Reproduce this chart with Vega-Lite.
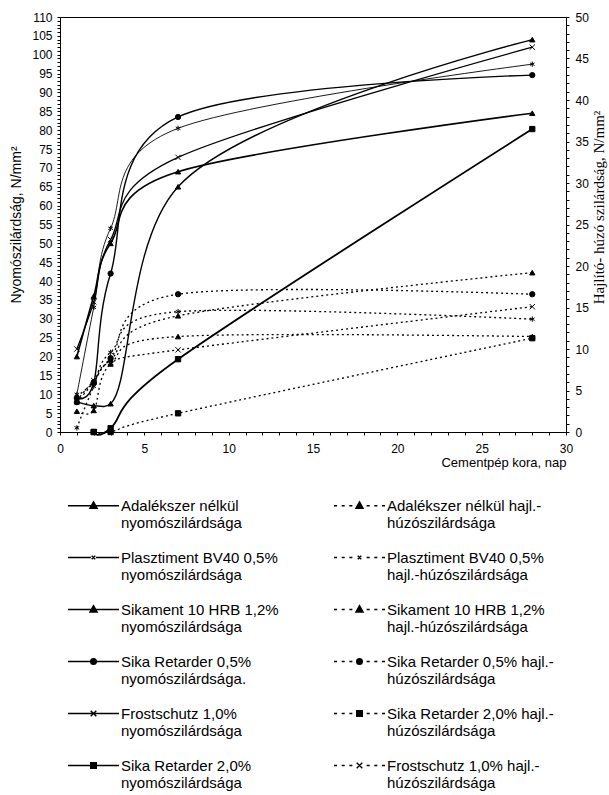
{
  "$schema": "https://vega.github.io/schema/vega-lite/v6.json",
  "width": 506,
  "height": 415,
  "autosize": {"type": "none"},
  "padding": {"left": 60, "top": 17, "right": 43, "bottom": 363},
  "background": "white",
  "config": {
    "font": "Liberation Sans",
    "view": {"stroke": "black", "strokeWidth": 1},
    "axis": {
      "domainColor": "black", "tickColor": "black", "labelColor": "black", "titleColor": "black",
      "grid": false, "labelFontSize": 12, "titleFontWeight": "normal", "tickSize": 3,
      "labelOverlap": false, "labelFlush": false, "labelFont": "Liberation Sans", "titleFont": "Liberation Sans"
    }
  },
  "data": {"values": [
    {"series": "Adalékszer nélkül|nyomószilárdsága", "kind": "ny", "age": 1, "value": 20},
    {"series": "Adalékszer nélkül|nyomószilárdsága", "kind": "ny", "age": 2, "value": 36},
    {"series": "Adalékszer nélkül|nyomószilárdsága", "kind": "ny", "age": 3, "value": 50},
    {"series": "Adalékszer nélkül|nyomószilárdsága", "kind": "ny", "age": 7, "value": 69},
    {"series": "Adalékszer nélkül|nyomószilárdsága", "kind": "ny", "age": 28, "value": 84.5},
    {"series": "Plasztiment BV40 0,5%|nyomószilárdsága", "kind": "ny", "age": 1, "value": 10},
    {"series": "Plasztiment BV40 0,5%|nyomószilárdsága", "kind": "ny", "age": 2, "value": 33},
    {"series": "Plasztiment BV40 0,5%|nyomószilárdsága", "kind": "ny", "age": 3, "value": 54},
    {"series": "Plasztiment BV40 0,5%|nyomószilárdsága", "kind": "ny", "age": 7, "value": 80.5},
    {"series": "Plasztiment BV40 0,5%|nyomószilárdsága", "kind": "ny", "age": 28, "value": 97.5},
    {"series": "Sikament 10 HRB 1,2%|nyomószilárdsága", "kind": "ny", "age": 1, "value": 8},
    {"series": "Sikament 10 HRB 1,2%|nyomószilárdsága", "kind": "ny", "age": 2, "value": 7},
    {"series": "Sikament 10 HRB 1,2%|nyomószilárdsága", "kind": "ny", "age": 3, "value": 7.5},
    {"series": "Sikament 10 HRB 1,2%|nyomószilárdsága", "kind": "ny", "age": 7, "value": 65},
    {"series": "Sikament 10 HRB 1,2%|nyomószilárdsága", "kind": "ny", "age": 28, "value": 104},
    {"series": "Sika Retarder 0,5%|nyomószilárdsága.", "kind": "ny", "age": 1, "value": 9},
    {"series": "Sika Retarder 0,5%|nyomószilárdsága.", "kind": "ny", "age": 2, "value": 13},
    {"series": "Sika Retarder 0,5%|nyomószilárdsága.", "kind": "ny", "age": 3, "value": 42},
    {"series": "Sika Retarder 0,5%|nyomószilárdsága.", "kind": "ny", "age": 7, "value": 83.5},
    {"series": "Sika Retarder 0,5%|nyomószilárdsága.", "kind": "ny", "age": 28, "value": 94.6},
    {"series": "Frostschutz 1,0%|nyomószilárdsága", "kind": "ny", "age": 1, "value": 22},
    {"series": "Frostschutz 1,0%|nyomószilárdsága", "kind": "ny", "age": 2, "value": 34.5},
    {"series": "Frostschutz 1,0%|nyomószilárdsága", "kind": "ny", "age": 3, "value": 51},
    {"series": "Frostschutz 1,0%|nyomószilárdsága", "kind": "ny", "age": 7, "value": 72.8},
    {"series": "Frostschutz 1,0%|nyomószilárdsága", "kind": "ny", "age": 28, "value": 102},
    {"series": "Sika Retarder 2,0%|nyomószilárdsága", "kind": "ny", "age": 2, "value": 0},
    {"series": "Sika Retarder 2,0%|nyomószilárdsága", "kind": "ny", "age": 3, "value": 1},
    {"series": "Sika Retarder 2,0%|nyomószilárdsága", "kind": "ny", "age": 7, "value": 19.3},
    {"series": "Sika Retarder 2,0%|nyomószilárdsága", "kind": "ny", "age": 28, "value": 80.3},
    {"series": "Adalékszer nélkül hajl.-|húzószilárdsága", "kind": "h", "age": 1, "value": 4.3},
    {"series": "Adalékszer nélkül hajl.-|húzószilárdsága", "kind": "h", "age": 2, "value": 6},
    {"series": "Adalékszer nélkül hajl.-|húzószilárdsága", "kind": "h", "age": 3, "value": 8.7},
    {"series": "Adalékszer nélkül hajl.-|húzószilárdsága", "kind": "h", "age": 7, "value": 14},
    {"series": "Adalékszer nélkül hajl.-|húzószilárdsága", "kind": "h", "age": 28, "value": 19.2},
    {"series": "Plasztiment BV40 0,5%|hajl.-húzószilárdsága", "kind": "h", "age": 1, "value": 0.5},
    {"series": "Plasztiment BV40 0,5%|hajl.-húzószilárdsága", "kind": "h", "age": 2, "value": 5.5},
    {"series": "Plasztiment BV40 0,5%|hajl.-húzószilárdsága", "kind": "h", "age": 3, "value": 9.6},
    {"series": "Plasztiment BV40 0,5%|hajl.-húzószilárdsága", "kind": "h", "age": 7, "value": 14.5},
    {"series": "Plasztiment BV40 0,5%|hajl.-húzószilárdsága", "kind": "h", "age": 28, "value": 13.6},
    {"series": "Sikament 10 HRB 1,2%|hajl.-húzószilárdsága", "kind": "h", "age": 1, "value": 2.5},
    {"series": "Sikament 10 HRB 1,2%|hajl.-húzószilárdsága", "kind": "h", "age": 2, "value": 2.6},
    {"series": "Sikament 10 HRB 1,2%|hajl.-húzószilárdsága", "kind": "h", "age": 3, "value": 8.2},
    {"series": "Sikament 10 HRB 1,2%|hajl.-húzószilárdsága", "kind": "h", "age": 7, "value": 11.5},
    {"series": "Sikament 10 HRB 1,2%|hajl.-húzószilárdsága", "kind": "h", "age": 28, "value": 11.5},
    {"series": "Sika Retarder 0,5% hajl.-|húzószilárdsága", "kind": "h", "age": 1, "value": 3.6},
    {"series": "Sika Retarder 0,5% hajl.-|húzószilárdsága", "kind": "h", "age": 2, "value": 6},
    {"series": "Sika Retarder 0,5% hajl.-|húzószilárdsága", "kind": "h", "age": 3, "value": 8.9},
    {"series": "Sika Retarder 0,5% hajl.-|húzószilárdsága", "kind": "h", "age": 7, "value": 16.6},
    {"series": "Sika Retarder 0,5% hajl.-|húzószilárdsága", "kind": "h", "age": 28, "value": 16.6},
    {"series": "Sika Retarder 2,0% hajl.-|húzószilárdsága", "kind": "h", "age": 2, "value": 0},
    {"series": "Sika Retarder 2,0% hajl.-|húzószilárdsága", "kind": "h", "age": 3, "value": 0},
    {"series": "Sika Retarder 2,0% hajl.-|húzószilárdsága", "kind": "h", "age": 7, "value": 2.25},
    {"series": "Sika Retarder 2,0% hajl.-|húzószilárdsága", "kind": "h", "age": 28, "value": 11.3},
    {"series": "Frostschutz 1,0% hajl.-|húzószilárdsága", "kind": "h", "age": 1, "value": 3.8},
    {"series": "Frostschutz 1,0% hajl.-|húzószilárdsága", "kind": "h", "age": 2, "value": 6.2},
    {"series": "Frostschutz 1,0% hajl.-|húzószilárdsága", "kind": "h", "age": 3, "value": 8.4},
    {"series": "Frostschutz 1,0% hajl.-|húzószilárdsága", "kind": "h", "age": 7, "value": 9.9},
    {"series": "Frostschutz 1,0% hajl.-|húzószilárdsága", "kind": "h", "age": 28, "value": 15.1}
  ]},
  "encoding": {
    "x": {
      "field": "age", "type": "quantitative",
      "scale": {"domain": [0, 30], "nice": false},
      "axis": {
        "title": "Cementpép kora, nap", "titleAnchor": "end", "titleFontSize": 13, "titlePadding": 2,
        "tickCount": 30, "labelExpr": "datum.value % 5 === 0 ? datum.label : ''",
        "labelPadding": 8,
        "encode": {"ticks": {"update": {"y": {"value": -3}}}}
      }
    }
  },
  "layer": [
    {
      "transform": [{"filter": "datum.kind === 'ny'"}],
      "encoding": {
        "y": {
          "field": "value", "type": "quantitative",
          "scale": {"domain": [0, 110], "nice": false},
          "axis": {
            "title": "Nyomószilárdság, N/mm²", "titleFontSize": 14, "titlePadding": 8,
            "tickCount": 110, "labelExpr": "datum.value % 5 === 0 ? datum.label : ''",
            "labelPadding": 5,
            "encode": {"ticks": {"update": {"x": {"value": 3}}}}
          }
        },
        "strokeWidth": {
          "field": "series", "type": "nominal", "legend": null,
          "scale": {
            "type": "ordinal",
            "domain": ["Adalékszer nélkül|nyomószilárdsága", "Plasztiment BV40 0,5%|nyomószilárdsága", "Sikament 10 HRB 1,2%|nyomószilárdsága", "Sika Retarder 0,5%|nyomószilárdsága.", "Frostschutz 1,0%|nyomószilárdsága", "Sika Retarder 2,0%|nyomószilárdsága"],
            "range": [1.6, 0.9, 1.4, 1.4, 1.3, 1.8]
          }
        }
      },
      "layer": [
        {
          "transform": [{"filter": "datum.series !== 'Sikament 10 HRB 1,2%|nyomószilárdsága'"}],
          "mark": {"type": "line", "interpolate": "cardinal", "color": "black"},
          "encoding": {"detail": {"field": "series"}}
        },
        {
          "transform": [{"filter": "datum.series === 'Sikament 10 HRB 1,2%|nyomószilárdsága'"}],
          "mark": {"type": "line", "interpolate": "catmull-rom", "color": "black"},
          "encoding": {"detail": {"field": "series"}}
        },
        {
          "mark": {"type": "point", "filled": true, "fill": "black", "stroke": "black", "size": 28, "opacity": 1},
          "encoding": {
            "strokeWidth": {"value": 1},
            "shape": {
              "field": "series", "type": "nominal", "legend": null,
              "scale": {
                "domain": ["Adalékszer nélkül|nyomószilárdsága", "Plasztiment BV40 0,5%|nyomószilárdsága", "Sikament 10 HRB 1,2%|nyomószilárdsága", "Sika Retarder 0,5%|nyomószilárdsága.", "Frostschutz 1,0%|nyomószilárdsága", "Sika Retarder 2,0%|nyomószilárdsága"],
                "range": ["triangle-up", "M0,-1V1M-0.87,-0.5L0.87,0.5M-0.87,0.5L0.87,-0.5", "triangle-up", "circle", "M-1,-1L1,1M-1,1L1,-1", "square"]
              }
            }
          }
        }
      ]
    },
    {
      "transform": [{"filter": "datum.kind === 'h'"}],
      "encoding": {
        "y": {
          "field": "value", "type": "quantitative",
          "scale": {"domain": [0, 50], "nice": false},
          "axis": {
            "orient": "right",
            "title": "Hajlító- húzó szilárdság, N/mm²", "titleFont": "Liberation Serif", "titleFontSize": 15,
            "titleAngle": 270, "titleBaseline": "top", "titlePadding": 3, "titleY": 190,
            "tickCount": 50, "labelExpr": "datum.value % 5 === 0 ? datum.label : ''",
            "labelPadding": 6,
            "encode": {"ticks": {"update": {"x": {"value": -3}}}}
          }
        }
      },
      "layer": [
        {
          "mark": {"type": "line", "interpolate": "cardinal", "color": "black", "strokeWidth": 1.3, "strokeDash": [2, 3]},
          "encoding": {"detail": {"field": "series"}}
        },
        {
          "mark": {"type": "point", "filled": true, "fill": "black", "stroke": "black", "strokeWidth": 1, "size": 28, "opacity": 1},
          "encoding": {
            "shape": {
              "field": "series", "type": "nominal", "legend": null,
              "scale": {
                "domain": ["Adalékszer nélkül hajl.-|húzószilárdsága", "Plasztiment BV40 0,5%|hajl.-húzószilárdsága", "Sikament 10 HRB 1,2%|hajl.-húzószilárdsága", "Sika Retarder 0,5% hajl.-|húzószilárdsága", "Sika Retarder 2,0% hajl.-|húzószilárdsága", "Frostschutz 1,0% hajl.-|húzószilárdsága"],
                "range": ["triangle-up", "M0,-1V1M-0.87,-0.5L0.87,0.5M-0.87,0.5L0.87,-0.5", "triangle-up", "circle", "square", "M-1,-1L1,1M-1,1L1,-1"]
              }
            }
          }
        }
      ]
    },
    {
      "mark": {"type": "point", "filled": false, "fill": "black", "stroke": "black", "strokeWidth": 1.4, "size": 2601, "opacity": 0},
      "encoding": {
        "shape": {
          "field": "series", "type": "nominal",
          "scale": {
            "domain": [
              "Adalékszer nélkül|nyomószilárdsága",
              "Plasztiment BV40 0,5%|nyomószilárdsága",
              "Sikament 10 HRB 1,2%|nyomószilárdsága",
              "Sika Retarder 0,5%|nyomószilárdsága.",
              "Frostschutz 1,0%|nyomószilárdsága",
              "Sika Retarder 2,0%|nyomószilárdsága",
              "Adalékszer nélkül hajl.-|húzószilárdsága",
              "Plasztiment BV40 0,5%|hajl.-húzószilárdsága",
              "Sikament 10 HRB 1,2%|hajl.-húzószilárdsága",
              "Sika Retarder 0,5% hajl.-|húzószilárdsága",
              "Sika Retarder 2,0% hajl.-|húzószilárdsága",
              "Frostschutz 1,0% hajl.-|húzószilárdsága"
            ],
            "range": [
              "M-1,0H1M0,-0.15L0.14,0.1L-0.14,0.1Z",
              "M-1,0H-0.1M0.1,0H1M-0.07,-0.07L0.07,0.07M-0.07,0.07L0.07,-0.07",
              "M-1,0H1M0,-0.15L0.14,0.1L-0.14,0.1Z",
              "M-1,0H1M0.11,0A0.11,0.11 0 1,1 -0.11,0A0.11,0.11 0 1,1 0.11,0Z",
              "M-1,0H1M-0.11,-0.11L0.11,0.11M-0.11,0.11L0.11,-0.11",
              "M-1,0H1M-0.11,-0.11H0.11V0.11H-0.11Z",
              "M-1,0H-0.88M-0.7,0H-0.58M-0.4,0H-0.28M0.28,0H0.4M0.58,0H0.7M0.88,0H1M0,-0.15L0.14,0.1L-0.14,0.1Z",
              "M-1,0H-0.88M-0.7,0H-0.58M-0.4,0H-0.28M0.28,0H0.4M0.58,0H0.7M0.88,0H1M-0.07,-0.07L0.07,0.07M-0.07,0.07L0.07,-0.07",
              "M-1,0H-0.88M-0.7,0H-0.58M-0.4,0H-0.28M0.28,0H0.4M0.58,0H0.7M0.88,0H1M0,-0.15L0.14,0.1L-0.14,0.1Z",
              "M-1,0H-0.88M-0.7,0H-0.58M-0.4,0H-0.28M0.28,0H0.4M0.58,0H0.7M0.88,0H1M0.11,0A0.11,0.11 0 1,1 -0.11,0A0.11,0.11 0 1,1 0.11,0Z",
              "M-1,0H-0.88M-0.7,0H-0.58M-0.4,0H-0.28M0.28,0H0.4M0.58,0H0.7M0.88,0H1M-0.11,-0.11H0.11V0.11H-0.11Z",
              "M-1,0H-0.88M-0.7,0H-0.58M-0.4,0H-0.28M0.28,0H0.4M0.58,0H0.7M0.88,0H1M-0.11,-0.11L0.11,0.11M-0.11,0.11L0.11,-0.11"
            ]
          },
          "legend": {
            "title": null, "orient": "none", "legendX": 7, "legendY": 462,
            "columns": 2, "columnPadding": 52, "rowPadding": 0,
            "labelFont": "Liberation Sans", "labelFontSize": 15, "labelColor": "black", "labelLimit": 400,
            "labelOffset": 1, "labelExpr": "split(datum.label, '|')",
            "symbolSize": 2601, "symbolStrokeWidth": 1.4, "symbolOpacity": 1,
            "encode": {
              "symbols": {"opacity": {"value": 1}, "fill": {"value": "black"}, "stroke": {"value": "black"}, "strokeWidth": {"value": 1.4}, "strokeOpacity": {"value": 1}, "fillOpacity": {"value": 1}},
              "labels": {"lineHeight": {"value": 18.5}}
            }
          }
        }
      }
    }
  ],
  "resolve": {"scale": {"y": "independent", "shape": "independent", "strokeWidth": "independent"}}
}
